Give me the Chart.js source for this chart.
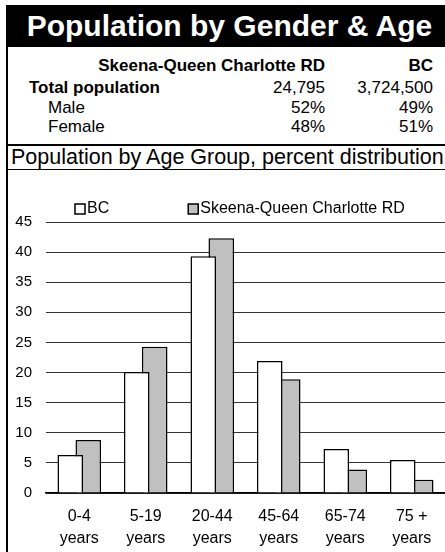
<!DOCTYPE html>
<html>
<head>
<meta charset="utf-8">
<script src="https://cdn.jsdelivr.net/npm/chart.js@4"></script>
<style>
  body { margin: 0; width: 445px; height: 552px; overflow: hidden; background: #fff; font-family: Arial, "Liberation Sans", sans-serif; color: #000; position: relative; }
  .abs { position: absolute; white-space: nowrap; }
  #titulo { left: 6px; top: 5px; width: 439px; height: 42px; background: #000; color: #fff; font-weight: bold; font-size: 30px; line-height: 42px; text-align: center; padding-left: 8px; box-sizing: border-box; }
  .linea { background: #000; }
  .fila { font-size: 17px; line-height: 22px; height: 22px; }
  .der { text-align: right; }
  #subtitulo { left: 11px; top: 146px; height: 23px; line-height: 23px; font-size: 21.5px; }
  #lienzo { position: absolute; left: 8px; top: 171px; width: 437px; height: 381px; }
</style>
</head>
<body>
<div class="abs" id="titulo">Population by Gender &amp; Age</div>
<div class="abs linea" style="left:6px;top:47px;width:2px;height:505px"></div>
<div class="abs linea" style="left:6px;top:144px;width:439px;height:2px"></div>
<div class="abs linea" style="left:6px;top:169px;width:439px;height:1px"></div>

<div class="abs fila der" style="right:120px;top:55px;font-weight:bold">Skeena-Queen Charlotte RD</div>
<div class="abs fila der" style="right:12px;top:55px;font-weight:bold">BC</div>

<div class="abs fila" style="left:29px;top:77px;font-weight:bold">Total population</div>
<div class="abs fila der" style="right:120px;top:77px">24,795</div>
<div class="abs fila der" style="right:12px;top:77px">3,724,500</div>

<div class="abs fila" style="left:48px;top:97px">Male</div>
<div class="abs fila der" style="right:120px;top:97px">52%</div>
<div class="abs fila der" style="right:12px;top:97px">49%</div>

<div class="abs fila" style="left:48px;top:116px">Female</div>
<div class="abs fila der" style="right:120px;top:116px">48%</div>
<div class="abs fila der" style="right:12px;top:116px">51%</div>

<div class="abs" id="subtitulo">Population by Age Group, percent distribution</div>

<div id="lienzo"><canvas id="grafico"></canvas></div>

<script>
// datos
const grupos = [['0-4', 'years'], ['5-19', 'years'], ['20-44', 'years'], ['45-64', 'years'], ['65-74', 'years'], ['75 +', 'years']];
const valoresBC = [6.3, 20.1, 39.3, 21.9, 7.3, 5.5];
const valoresSkeena = [8.8, 24.3, 42.3, 18.9, 3.9, 2.2];
const ticksY = [0, 5, 10, 15, 20, 25, 30, 35, 40, 45];

const fuente = 'Arial, "Liberation Sans", sans-serif';

// leyenda dibujada a mano (cuadritos de 10px como en Excel)
const leyendaExcel = {
    id: 'leyendaExcel',
    afterDraw(chart) {
        const ctx = chart.ctx;
        ctx.save();
        ctx.font = '16px ' + fuente;
        ctx.textBaseline = 'middle';
        let x = 67;
        const y = 38;
        chart.data.datasets.forEach(ds => {
            ctx.fillStyle = ds.backgroundColor;
            ctx.fillRect(x, y - 5, 10, 10);
            ctx.lineWidth = 1.5;
            ctx.strokeStyle = '#000';
            ctx.strokeRect(x, y - 5, 10, 10);
            ctx.fillStyle = '#000';
            ctx.fillText(ds.label, x + 12, y);
            x += 12 + ctx.measureText(ds.label).width + 79;
        });
        ctx.restore();
    }
};

new Chart(document.getElementById('grafico'), {
    type: 'bar',
    data: {
        labels: grupos,
        datasets: [
            { label: 'BC', data: valoresBC, backgroundColor: '#ffffff', borderColor: '#000', borderWidth: 1.5, borderSkipped: 'bottom' },
            { label: 'Skeena-Queen Charlotte RD', data: valoresSkeena, backgroundColor: '#c0c0c0', borderColor: '#000', borderWidth: 1.5, borderSkipped: 'bottom' }
        ]
    },
    options: {
        responsive: true,
        maintainAspectRatio: false,
        animation: false,
        categoryPercentage: 0.541,
        barPercentage: 1.42,
        layout: { padding: { top: 51, right: 0, left: 0, bottom: 0 } },
        plugins: { legend: { display: false }, tooltip: { enabled: false } },
        scales: {
            x: {
                grid: { display: false, drawTicks: false },
                border: { color: '#000', width: 1.5 },
                ticks: { color: '#000', font: { family: fuente, size: 16, lineHeight: 1.35 }, padding: 13, maxRotation: 0, autoSkip: false },
                afterFit: s => { s.height = 59; }
            },
            y: {
                min: 0, max: 45,
                afterBuildTicks: s => { s.ticks = ticksY.map(v => ({ value: v })); },
                grid: { color: '#333', lineWidth: 1, drawTicks: false },
                border: { display: false },
                ticks: { color: '#000', font: { family: fuente, size: 15 }, padding: 14 },
                afterFit: s => { s.width = 38; }
            }
        }
    },
    plugins: [leyendaExcel]
});
</script>
</body>
</html>
